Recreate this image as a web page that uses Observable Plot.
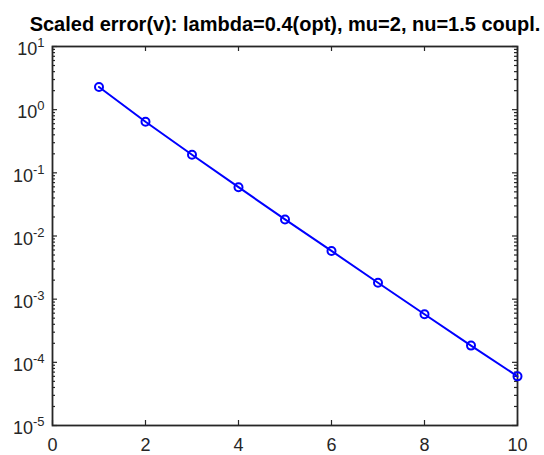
<!DOCTYPE html>
<html><head><meta charset="utf-8">
<script src="https://cdn.jsdelivr.net/npm/d3@7"></script>
<script src="https://cdn.jsdelivr.net/npm/@observablehq/plot@0.6"></script>
<style>body{margin:0;background:#fff;} #chart{width:544px;height:455px;}</style>
</head><body><div id="chart"></div>
<script>
const titleText = "Scaled error(v): lambda=0.4(opt), mu=2, nu=1.5 coupl.";
const iterations = [1, 2, 3, 4, 5, 6, 7, 8, 9, 10];
const scaledError = [2.29, 0.645, 0.193, 0.0593, 0.0183, 0.0058, 0.00182, 0.000578, 0.000184, 6.0e-5];
const xTicks = [0, 2, 4, 6, 8, 10];
const yExponents = [-5, -4, -3, -2, -1, 0, 1];
const yMajorTicks = yExponents.map(e => Math.pow(10, e));
const yMinorTicks = yExponents.slice(0, -1).flatMap(e => [2,3,4,5,6,7,8,9].map(m => m * Math.pow(10, e)));

const W = 544, H = 455, mL = 52, mR = 27, mT = 46, mB = 30;
const fw = W - mL - mR, fh = H - mT - mB;
const axisColor = "#262626";

const plot = Plot.plot({
  width: W, height: H,
  marginLeft: mL, marginRight: mR, marginTop: mT, marginBottom: mB,
  style: {fontFamily: "'Liberation Sans', Arial, sans-serif", fontSize: "18px", background: "#fff", overflow: "visible"},
  x: {domain: [0, 10]},
  y: {type: "log", domain: [1e-5, 10]},
  marks: [
    Plot.tickX(xTicks, {x: d => d, insetTop: fh - 5, stroke: axisColor, strokeWidth: 1.2}),
    Plot.tickX(xTicks, {x: d => d, insetBottom: fh - 5, stroke: axisColor, strokeWidth: 1.2}),
    Plot.tickY(yMajorTicks, {y: d => d, insetRight: fw - 5, stroke: axisColor, strokeWidth: 1.2}),
    Plot.tickY(yMajorTicks, {y: d => d, insetLeft: fw - 5, stroke: axisColor, strokeWidth: 1.2}),
    Plot.tickY(yMinorTicks, {y: d => d, insetRight: fw - 3, stroke: axisColor, strokeWidth: 1.2}),
    Plot.tickY(yMinorTicks, {y: d => d, insetLeft: fw - 3, stroke: axisColor, strokeWidth: 1.2}),
    Plot.frame({stroke: axisColor, strokeWidth: 1.8}),
    Plot.axisX(xTicks, {tickSize: 0, tickPadding: 13, fill: axisColor, tickFormat: d => String(d), label: null}),
    Plot.axisY(yMajorTicks, {tickSize: 0, tickPadding: 8, fill: axisColor, tickFormat: d => "10^" + Math.round(Math.log10(d)), label: null}),
    Plot.line(iterations.map((x, i) => ({x, y: scaledError[i]})), {x: "x", y: "y", stroke: "#0000ff", strokeWidth: 2}),
    Plot.dot(iterations.map((x, i) => ({x, y: scaledError[i]})), {x: "x", y: "y", r: 4, stroke: "#0000ff", strokeWidth: 2, fill: "none"}),
    Plot.text([titleText], {text: d => d, frameAnchor: "top", dy: -16, lineAnchor: "bottom", fontSize: 20, fontWeight: "bold", fill: "#000"})
  ]
});

plot.querySelectorAll('g[aria-label="x-axis tick label"] text, g[aria-label="y-axis tick label"] text').forEach(t => { t.style.fontSize = "18px"; });
plot.querySelectorAll('g[aria-label="y-axis tick label"] text').forEach(t => {
  const s = t.textContent;
  const m = s.match(/^10\^(-?\d+)$/);
  if (m) {
    t.textContent = "";
    const ns = "http://www.w3.org/2000/svg";
    const base = document.createElementNS(ns, "tspan");
    base.textContent = "10";
    const sup = document.createElementNS(ns, "tspan");
    sup.textContent = m[1];
    sup.setAttribute("dy", "-8");
    sup.style.fontSize = "13px";
    t.appendChild(base); t.appendChild(sup);
    t.setAttribute("transform", (t.getAttribute("transform") || "") + " translate(0,3)");
  }
});
document.getElementById("chart").appendChild(plot);
</script>
</body></html>
